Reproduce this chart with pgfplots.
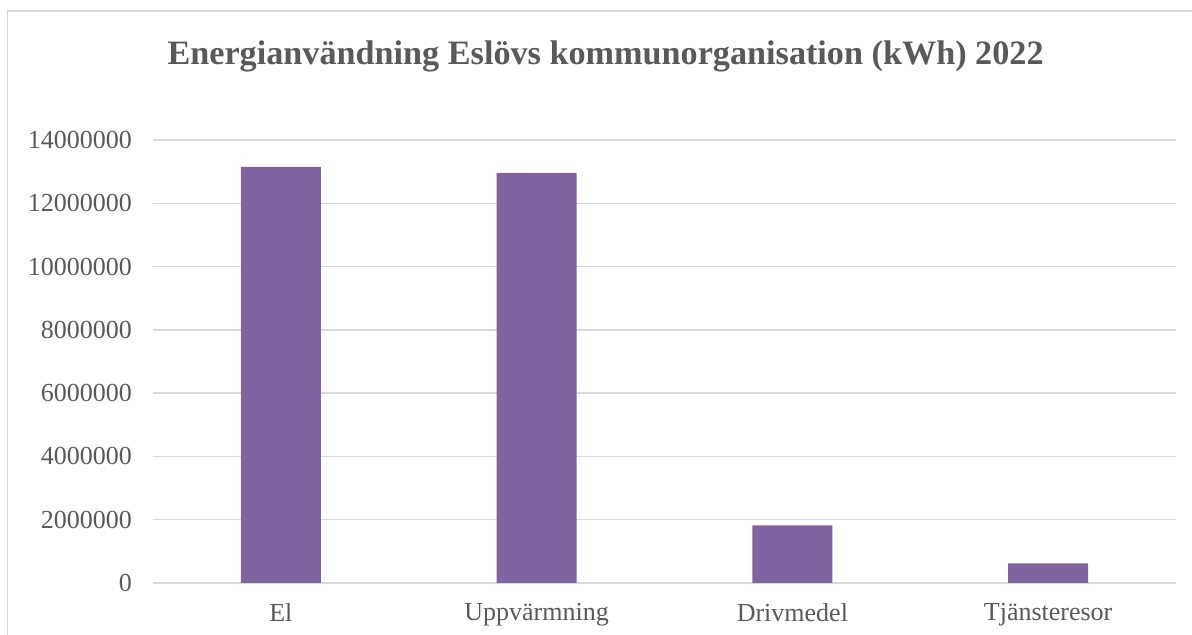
\documentclass[border=0pt]{standalone}
\usepackage{pgfplots}
\pgfplotsset{compat=1.18}
\usepackage{fontspec}
\setmainfont{Liberation Serif}
\definecolor{barc}{HTML}{8064A2}
\definecolor{txt}{HTML}{595959}
\definecolor{gridc}{HTML}{D9D9D9}
\begin{document}
\begin{tikzpicture}
\useasboundingbox (0,0) rectangle (596pt,317.5pt);
\draw[gridc, line width=0.75pt] (3.75pt,0) -- (3.75pt,312pt) -- (596pt,312pt);
\node[text=txt, font=\fontsize{17.1}{20}\selectfont\bfseries] at (302.8pt,289.5pt) {Energianvändning Eslövs kommunorganisation (kWh) 2022};
\begin{axis}[
  at={(76.5pt,26pt)}, anchor=south west,
  width=511.5pt, height=221.5pt, scale only axis,
  xmin=-0.5, xmax=3.5, ymin=0, ymax=14000000,
  ytick distance=2000000,
  xtick=data,
  xticklabels={El,Uppvärmning,Drivmedel,Tjänsteresor},
  scaled y ticks=false,
  /pgf/number format/.cd, fixed, 1000 sep={}, assume math mode=true,
  /pgfplots/.cd,
  axis line style={draw=none},
  major tick length=0pt,
  ymajorgrids, grid style={gridc, line width=0.75pt},
  tick label style={text=txt, font=\fontsize{13}{15}\selectfont},
  yticklabel style={xshift=-7pt},
  xticklabel style={yshift=-6.5pt},
  ybar, bar width=40pt,
]
\addplot[fill=barc, draw=none] coordinates {(0,13150000) (1,12960000) (2,1820000) (3,620000)};
\end{axis}
\end{tikzpicture}
\end{document}
